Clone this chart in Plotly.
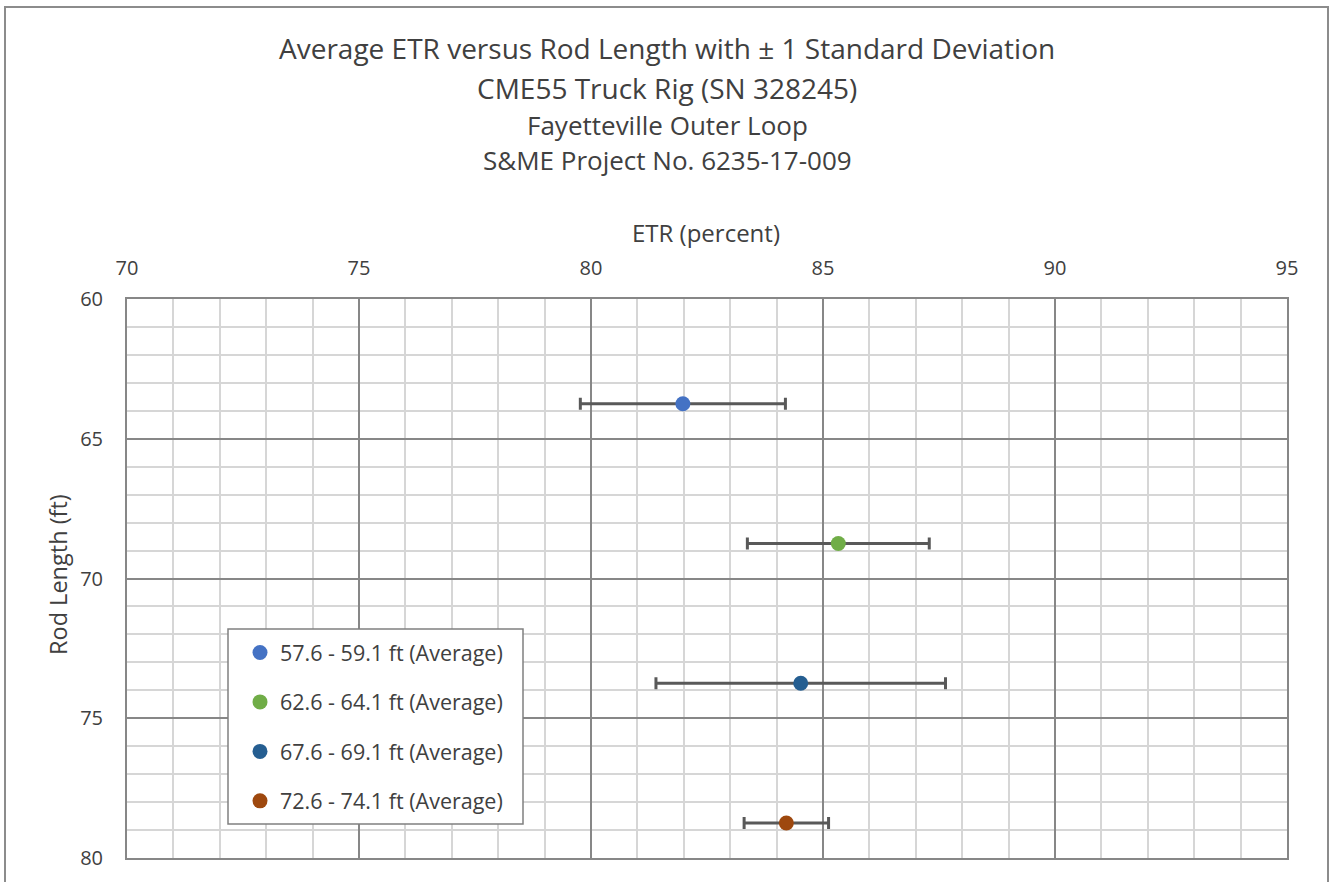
import plotly.graph_objects as go

# Average ETR (percent) and one standard deviation for each rod-length group
series_names = [
    "57.6 - 59.1 ft (Average)",
    "62.6 - 64.1 ft (Average)",
    "67.6 - 69.1 ft (Average)",
    "72.6 - 74.1 ft (Average)",
]
etr_avg = [81.98, 85.33, 84.52, 84.21]
etr_sd = [2.21, 1.96, 3.12, 0.91]
rod_length = [63.75, 68.75, 73.75, 78.75]
colors = ["#4472C4", "#70AD47", "#255E91", "#9E480E"]

title_lines = [
    "Average ETR versus Rod Length with ± 1 Standard Deviation",
    "CME55 Truck Rig (SN 328245)",
    "Fayetteville Outer Loop",
    "S&ME Project No. 6235-17-009",
]

W, H = 1329, 882
L, R, T, B = 127, 42, 299, 24
plot_w = W - L - R
plot_h = H - T - B
FONT = "Open Sans"
TEXT = "#404040"


def px_x(x):
    return (x - L) / plot_w


def px_y(y):
    return 1 - (y - T) / plot_h


fig = go.Figure()
for i, name in enumerate(series_names):
    fig.add_trace(go.Scatter(
        x=[etr_avg[i]], y=[rod_length[i]],
        mode="markers",
        name=name,
        legendgroup=f"g{i}",
        marker=dict(color=colors[i], size=15),
        error_x=dict(type="data", array=[etr_sd[i]], symmetric=True,
                     color="#595959", thickness=3, width=6),
    ))

major = "#878787"
minor = "#d6d6d6"

fig.update_xaxes(
    range=[70, 95], side="top", dtick=5, tick0=70,
    showgrid=True, gridcolor=major, gridwidth=2,
    minor=dict(dtick=1, showgrid=True, gridcolor=minor, gridwidth=2),
    showline=True, mirror=True, linecolor=major, linewidth=2,
    zeroline=False, ticks="", ticklabelstandoff=14,
    tickfont=dict(family=FONT, size=20, color=TEXT),
)
fig.update_yaxes(
    range=[80, 60], dtick=5, tick0=60,
    showgrid=True, gridcolor=major, gridwidth=2,
    minor=dict(dtick=1, showgrid=True, gridcolor=minor, gridwidth=2),
    showline=True, mirror=True, linecolor=major, linewidth=2,
    zeroline=False, ticks="", ticklabelstandoff=18,
    tickfont=dict(family=FONT, size=20, color=TEXT),
)

annotations = []
title_y = [48, 88, 125, 160]
title_size = [28, 28, 26, 26]
for text, y, s in zip(title_lines, title_y, title_size):
    annotations.append(dict(
        text=text, xref="paper", yref="paper", x=px_x(667), y=px_y(y),
        xanchor="center", yanchor="middle", showarrow=False,
        font=dict(family=FONT, size=s, color=TEXT),
    ))
annotations.append(dict(
    text="ETR (percent)", xref="paper", yref="paper", x=px_x(706), y=px_y(233),
    xanchor="center", yanchor="middle", showarrow=False,
    font=dict(family=FONT, size=24, color=TEXT),
))
annotations.append(dict(
    text="Rod Length (ft)", xref="paper", yref="paper", x=px_x(58), y=px_y(575),
    xanchor="center", yanchor="middle", showarrow=False, textangle=-90,
    font=dict(family=FONT, size=23.5, color=TEXT),
))

fig.update_layout(
    width=W, height=H,
    margin=dict(l=L, r=R, t=T, b=B),
    paper_bgcolor="white", plot_bgcolor="white",
    showlegend=True,
    legend=dict(
        x=px_x(240), y=px_y(632), xanchor="left", yanchor="top",
        bgcolor="rgba(0,0,0,0)", borderwidth=0,
        font=dict(family=FONT, size=21.5, color=TEXT),
        traceorder="grouped", tracegroupgap=18.5,
    ),
    annotations=annotations,
    shapes=[
        # chart frame
        dict(
            type="rect", xref="paper", yref="paper",
            x0=px_x(5), x1=px_x(1328), y0=px_y(H + 10), y1=px_y(7),
            line=dict(color="#8c8c8c", width=2), fillcolor="rgba(0,0,0,0)",
            layer="below",
        ),
        # legend box
        dict(
            type="rect", xref="paper", yref="paper",
            x0=px_x(228), x1=px_x(523), y0=px_y(824), y1=px_y(629),
            line=dict(color="#808080", width=1.5), fillcolor="white",
            layer="above",
        ),
    ],
)

fig.write_html("out.html")
